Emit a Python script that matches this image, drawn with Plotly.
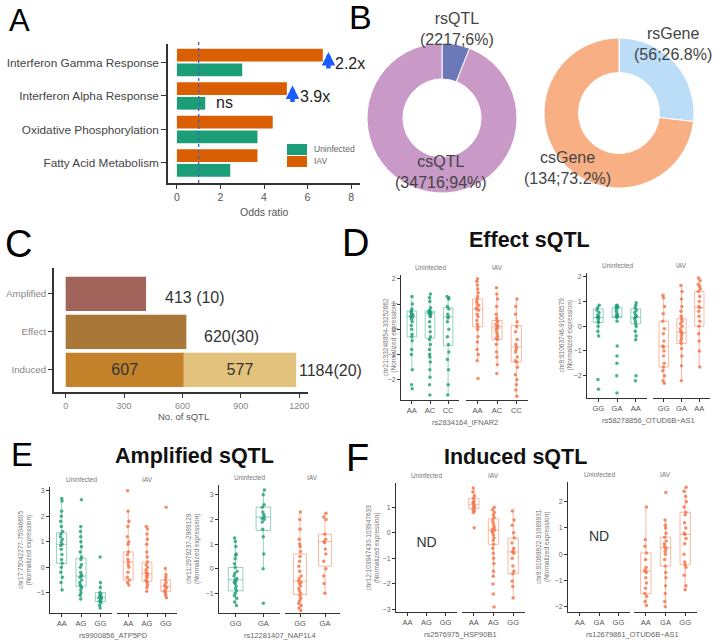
import plotly.graph_objects as go

W, H = 720, 642
FONT = "Liberation Sans, Arial, Helvetica, sans-serif"

# ---------------- Panel A data ----------------
A_TERMS = ["Interferon Gamma Response", "Interferon Alpha Response",
           "Oxidative Phosphorylation", "Fatty Acid Metabolism"]
A_UNINFECTED = [3.0, 1.3, 3.7, 2.45]
A_IAV = [6.7, 5.05, 4.4, 3.7]
A_GROUPS = ["Uninfected", "IAV"]

# ---------------- Panel B data ----------------
B_QTL_LABELS = ["rsQTL", "csQTL"]
B_QTL_COUNTS = [2217, 34716]
B_QTL_PCT = ["6", "94"]
B_GENE_LABELS = ["rsGene", "csGene"]
B_GENE_COUNTS = [56, 134]
B_GENE_PCT = [26.8, 73.2]

# ---------------- Panel C data ----------------
C_CATS = ["Amplified", "Effect", "Induced"]
C_FIRST = [413, 620, 607]
C_INDUCED_SECOND = 577
C_TOTALS = [413, 620, 1184]
C_LABELS = ["413 (10)", "620(30)", "1184(20)"]

# ---------------- Box panels data (points + (q1, median, q3, lower, upper)) ----------------
D1_CATS = ["AA", "AC", "CC"]
D1_SNP = "rs2834164_IFNAR2"
D1_REGION = "chr21:33248854-33252662"
D1_UNIN_PTS = [
    [1.3, 1.0, 0.8, 0.72, 0.68, 0.62, 0.58, 0.55, 0.5, 0.48, 0.4, 0.3, 0.15, 0.0, -0.2, -0.3, -0.45, -0.8, -1.0, -1.6, -2.2, -2.35],
    [1.4, 1.25, 1.1, 0.85, 0.75, 0.72, 0.7, 0.68, 0.66, 0.64, 0.6, 0.55, 0.5, 0.3, 0.1, -0.1, -0.3, -0.4, -0.6, -0.8, -1.0, -1.1, -1.3, -1.6, -1.9, -2.2, -2.6],
    [1.3, 1.25, 1.2, 0.9, 0.8, 0.6, 0.5, 0.45, 0.3, 0.0, -0.3, -0.6, -0.9, -1.2, -1.6, -2.2, -2.6],
]
D1_UNIN_BOX = [(-0.3, 0.5, 0.72, -1.6, 1.3), (-0.35, 0.65, 0.72, -1.9, 1.4), (-0.65, 0.5, 0.85, -2.6, 1.3)]
D1_IAV_PTS = [
    [2.0, 1.9, 1.75, 1.6, 1.45, 1.3, 1.2, 1.1, 1.0, 0.95, 0.85, 0.8, 0.75, 0.6, 0.5, 0.35, 0.2, 0.1, 0.0, -0.3, -0.5, -0.8, -1.0, -1.25, -1.95],
    [1.65, 1.4, 1.2, 0.9, 0.6, 0.45, 0.35, 0.3, 0.2, 0.15, 0.1, 0.05, 0.0, -0.1, -0.2, -0.3, -0.35, -0.4, -0.6, -0.9, -1.1, -1.4, -1.75],
    [1.2, 0.9, 0.6, 0.3, 0.1, -0.1, -0.4, -0.6, -0.7, -0.8, -0.9, -1.1, -1.25, -1.3, -1.5, -1.8, -2.0, -2.2, -2.4, -2.65],
]
D1_IAV_BOX = [(0.1, 0.8, 1.2, -1.25, 2.0), (-0.4, 0.1, 0.35, -1.4, 1.4), (-1.3, -0.7, 0.15, -2.65, 1.2)]

D2_CATS = ["GG", "GA", "AA"]
D2_SNP = "rs58278856_OTUD6B\u2212AS1"
D2_REGION = "chr8:91063746-91068579"
D2_UNIN_PTS = [
    [0.85, 0.75, 0.65, 0.55, 0.45, 0.4, 0.35, 0.35, 0.3, 0.2, 0.15, 0.0, -0.2, -0.4, -2.15, -2.55],
    [0.85, 0.82, 0.8, 0.78, 0.75, 0.7, 0.6, 0.5, 0.45, 0.42, 0.4, 0.38, 0.35, 0.2, -0.8, -1.2, -1.5, -2.0, -2.7],
    [0.95, 0.85, 0.75, 0.65, 0.55, 0.45, 0.4, 0.35, 0.3, 0.2, 0.1, 0.0, -0.2, -0.4, -0.55, -2.0, -2.2],
]
D2_UNIN_BOX = [(0.15, 0.35, 0.7, -0.4, 0.85), (0.35, 0.4, 0.75, 0.2, 0.85), (0.1, 0.35, 0.7, -0.55, 0.95)]
D2_IAV_PTS = [
    [1.25, 1.15, 0.8, 0.5, 0.2, -0.1, -0.3, -0.6, -0.8, -0.85, -1.0, -1.2, -1.5, -1.65, -1.8, -2.0, -2.2, -2.3],
    [1.65, 1.4, 1.1, 0.8, 0.6, 0.4, 0.3, 0.2, 0.1, 0.0, -0.1, -0.2, -0.25, -0.3, -0.4, -0.5, -0.6, -0.7, -0.9, -1.2, -1.6, -2.2],
    [1.95, 1.85, 1.7, 1.6, 1.5, 1.4, 1.2, 1.0, 0.8, 0.75, 0.6, 0.4, 0.2, 0.0, -0.3, -0.6, -1.0, -1.65],
]
D2_IAV_BOX = [(-1.65, -0.8, 0.2, -2.3, 1.25), (-0.7, -0.25, 0.3, -2.2, 1.65), (0.0, 0.75, 1.4, -1.65, 1.95)]

E1_CATS = ["AA", "AG", "GG"]
E1_SNP = "rs9900856_ATP5PD"
E1_REGION = "chr17:75042277-75046605"
E1_UNIN_PTS = [
    [2.7, 2.6, 2.2, 2.0, 1.8, 1.6, 1.4, 1.3, 1.2, 1.1, 1.0, 0.9, 0.85, 0.7, 0.5, 0.3, 0.15, 0.0, -0.2, -0.4, -0.6, -0.9],
    [2.65, 1.6, 1.4, 1.2, 1.0, 0.8, 0.6, 0.4, 0.3, 0.1, 0.0, -0.2, -0.3, -0.35, -0.4, -0.5, -0.6, -0.7, -0.75, -0.8, -0.9, -1.0, -1.1, -1.25],
    [0.4, -0.6, -0.8, -1.0, -1.05, -1.1, -1.15, -1.2, -1.2, -1.25, -1.3, -1.35, -1.4, -1.5, -1.6],
]
E1_UNIN_BOX = [(0.15, 0.9, 1.35, -0.9, 2.7), (-0.75, -0.35, 0.35, -1.25, 1.6), (-1.35, -1.2, -1.0, -1.6, -0.6)]
E1_IAV_PTS = [
    [3.0, 2.2, 1.8, 1.6, 1.2, 1.0, 0.9, 0.6, 0.5, 0.3, 0.2, 0.1, 0.0, -0.2, -0.4, -0.5, -0.6, -0.7],
    [1.6, 1.5, 1.3, 1.1, 0.9, 0.6, 0.4, 0.2, 0.1, 0.0, -0.1, -0.2, -0.25, -0.3, -0.35, -0.4, -0.5, -0.55, -0.6, -0.7, -0.8, -0.95],
    [2.35, -0.05, -0.3, -0.4, -0.5, -0.6, -0.7, -0.75, -0.8, -0.9, -0.95, -1.0, -1.1, -1.2],
]
E1_IAV_BOX = [(-0.5, 0.2, 0.6, -0.7, 2.2), (-0.55, -0.25, 0.2, -0.95, 1.3), (-0.95, -0.75, -0.5, -1.2, -0.05)]

E2_CATS = ["GG", "GA"]
E2_SNP = "rs12281407_NAP1L4"
E2_REGION = "chr11:2979237-2989129"
E2_UNIN_PTS = [
    [1.25, 1.1, 0.9, 0.6, 0.55, 0.4, 0.2, 0.05, -0.1, -0.2, -0.3, -0.4, -0.45, -0.5, -0.55, -0.6, -0.7, -0.8, -0.9, -1.0, -1.1, -1.2, -1.35, -1.5],
    [3.2, 3.0, 2.6, 2.5, 2.3, 2.2, 2.1, 2.05, 2.0, 1.9, 1.6, 1.3, 0.6, 0.0, -1.4],
]
E2_UNIN_BOX = [(-0.9, -0.45, 0.05, -1.5, 1.25), (1.55, 2.1, 2.5, 0.05, 3.2)]
E2_IAV_PTS = [
    [2.3, 2.0, 1.6, 1.2, 1.0, 0.9, 0.7, 0.5, 0.3, 0.1, -0.1, -0.3, -0.4, -0.5, -0.55, -0.6, -0.7, -0.8, -0.9, -1.0, -1.1, -1.2, -1.3, -1.4, -1.5, -1.6, -1.7],
    [2.25, 2.1, 2.0, 1.4, 1.2, 1.1, 1.05, 0.8, 0.6, 0.3, 0.0, -0.3, -0.6, -1.0],
]
E2_IAV_BOX = [(-1.05, -0.5, 0.6, -1.7, 2.3), (0.1, 1.1, 1.4, -1.0, 2.25)]

F1_CATS = ["AA", "AG", "GG"]
F1_SNP = "rs2576975_HSP90B1"
F1_REGION = "chr12:103947430-103947633"
F1_IAV_PTS = [
    [1.75, 1.6, 1.45, 1.35, 1.25, 1.2, 1.15, 1.1, 1.05, 1.0, 0.95, 0.9, 0.85, 0.8, 0.2],
    [1.0, 0.9, 0.8, 0.7, 0.6, 0.5, 0.4, 0.3, 0.2, 0.15, 0.1, 0.05, 0.0, -0.1, -0.2, -0.3, -0.45, -0.6, -0.8, -1.0, -1.2, -1.5, -1.7, -2.0, -2.4, -2.9],
    [0.85, 0.5, 0.3, 0.0, -0.2, -0.4, -0.6, -0.7, -0.75, -0.8, -1.0, -1.3, -1.5, -1.6, -1.9, -2.1, -2.55],
]
F1_IAV_BOX = [(0.95, 1.1, 1.35, 0.8, 1.75), (-0.45, 0.1, 0.55, -1.7, 1.0), (-1.6, -0.75, -0.2, -2.55, 0.85)]

F2_CATS = ["AA", "GA", "GG"]
F2_SNP = "rs12679861_OTUD6B\u2212AS1"
F2_REGION = "chr8:91068822-91069931"
F2_IAV_PTS = [
    [1.8, 0.55, 0.3, 0.05, -0.2, -0.5, -0.6, -0.65, -0.7, -0.9, -1.1, -1.3, -1.5, -1.6, -1.8, -1.95],
    [2.35, 1.3, 1.1, 1.0, 0.8, 0.65, 0.5, 0.4, 0.3, 0.25, 0.2, 0.1, 0.0, -0.2, -0.45, -0.7, -0.9, -1.2, -1.5, -1.8, -2.0],
    [2.55, 2.4, 2.2, 2.0, 1.8, 1.6, 1.5, 1.2, 1.0, 0.8, 0.75, 0.6, 0.4, 0.0, -0.3, -0.4, -0.5, -0.8, -1.2, -1.35],
]
F2_IAV_BOX = [(-1.5, -0.65, 0.05, -1.95, 1.8), (-0.45, 0.25, 0.65, -2.0, 1.3), (-0.4, 0.75, 1.6, -1.35, 2.55)]

# "ND" marker placement (genotype index, expression level) for facets without data
F1_ND = (1, -0.4)
F2_ND = (1, 0.62)

# ---------------- styling ----------------
GREEN = "#1B9E77"
ORANGE = "#D95F02"
BOX_G_LINE = "rgba(27,158,119,0.45)"
BOX_G_PT = "rgba(27,158,119,0.8)"
BOX_O_LINE = "rgba(245,120,78,0.5)"
BOX_O_PT = "rgba(245,120,78,0.85)"
C_COLORS = ["#A2645A", "#A97838", "#C4832B"]
C_COLOR2 = "#E2C27C"
QTL_COLORS = ["#6C79B8", "#C99AC8"]
GENE_COLORS = ["#BCDDF8", "#F8AF84"]


def px_x(a, b):
    return [a / W, b / W]


def px_y(top, bot):
    return [1 - bot / H, 1 - top / H]


def base_axis(**kw):
    d = dict(showgrid=False, zeroline=False, showline=True, linecolor="#333", linewidth=1,
             ticks="outside", tickcolor="#333", ticklen=3, tickwidth=1,
             tickfont=dict(size=7, color="#666", family=FONT), fixedrange=True)
    d.update(kw)
    return d


def axkey(kind, n):
    return f"{kind}axis" if n == 1 else f"{kind}axis{n}"


def axname(kind, n):
    return kind if n == 1 else f"{kind}{n}"


traces = []
layout = {}
annotations = []
shapes = []


def ann(text, xp, yp, size, color="#333", bold=False, **kw):
    t = f"<b>{text}</b>" if bold else text
    d = dict(text=t, x=xp / W, y=1 - yp / H, xref="paper", yref="paper", showarrow=False,
             xanchor="center", yanchor="middle", font=dict(size=size, color=color, family=FONT))
    d.update(kw)
    annotations.append(d)


# ================= Panel A =================
a_order = A_TERMS[::-1]
layout["xaxis"] = base_axis(domain=px_x(168, 360), range=[-0.41, 8.41], anchor="y",
                            tickvals=[0, 2, 4, 6, 8], linewidth=1.5, ticklen=4,
                            tickfont=dict(size=10.5, color="#555", family=FONT))
layout["yaxis"] = base_axis(domain=px_y(44, 183), range=[-0.6, 3.55], anchor="x", type="category",
                            categoryorder="array", categoryarray=a_order, linewidth=1.5, ticklen=5,
                            tickfont=dict(size=11.8, color="#444", family=FONT))
traces.append(go.Bar(y=A_TERMS, x=A_UNINFECTED, orientation="h", name=A_GROUPS[0],
                     marker=dict(color=GREEN, line=dict(width=0)), width=0.38, offset=-0.41,
                     showlegend=False, xaxis="x", yaxis="y"))
traces.append(go.Bar(y=A_TERMS, x=A_IAV, orientation="h", name=A_GROUPS[1],
                     marker=dict(color=ORANGE, line=dict(width=0)), width=0.38, offset=0.03,
                     showlegend=False, xaxis="x", yaxis="y"))
shapes.append(dict(type="line", xref="x", yref="y domain", x0=1, x1=1, y0=0, y1=1.02,
                   line=dict(color="#4B5BC8", width=1.3, dash="dot")))
for i in (0, 1):
    idx = a_order.index(A_TERMS[i])
    ratio = A_IAV[i] / A_UNINFECTED[i]
    annotations.append(dict(text="", x=A_IAV[i] + 0.26, y=idx + 0.31, xref="x", yref="y",
                            showarrow=True, ax=0, ay=18, arrowhead=2, arrowsize=0.6,
                            arrowwidth=4.5, arrowcolor="#1A5CFF"))
    annotations.append(dict(text=f"{ratio:.1f}x", x=A_IAV[i] + 0.26, y=idx - 0.03, xref="x", yref="y",
                            xanchor="left", xshift=5, showarrow=False,
                            font=dict(size=16, color="#222", family=FONT)))
annotations.append(dict(text="ns", x=A_UNINFECTED[1], y=a_order.index(A_TERMS[1]) - 0.2, xref="x", yref="y",
                        xanchor="left", xshift=9, showarrow=False,
                        font=dict(size=16, color="#222", family=FONT)))
ann("Odds ratio", 264, 212, 10.5, "#555")
# legend for panel A (keys + labels)
for grp, col, (top, bot) in zip(A_GROUPS, [GREEN, ORANGE], [(144, 155), (156, 167)]):
    shapes.append(dict(type="rect", xref="paper", yref="paper", x0=287 / W, x1=307 / W,
                       y0=1 - bot / H, y1=1 - top / H, fillcolor=col, line=dict(width=0)))
    ann(grp, 312, (top + bot) / 2, 8.5, "#666", xanchor="left")

# ================= Panel B =================
traces.append(go.Pie(labels=B_QTL_LABELS, values=B_QTL_COUNTS, hole=0.52, sort=False,
                     direction="clockwise", rotation=0, textinfo="none", showlegend=False,
                     marker=dict(colors=QTL_COLORS, line=dict(color="white", width=1)),
                     domain=dict(x=px_x(367, 517), y=px_y(43, 193))))
traces.append(go.Pie(labels=B_GENE_LABELS, values=B_GENE_PCT, hole=0.54, sort=False,
                     direction="clockwise", rotation=0, textinfo="none", showlegend=False,
                     marker=dict(colors=GENE_COLORS, line=dict(color="white", width=1)),
                     domain=dict(x=px_x(544, 694), y=px_y(38, 188))))
qtl_pos = [(457, 29), (441, 172)]
for lab, cnt, pct, (xp, yp) in zip(B_QTL_LABELS, B_QTL_COUNTS, B_QTL_PCT, qtl_pos):
    ann(f"{lab}<br>({cnt};{pct}%)", xp, yp, 16, "#444")
gene_pos = [(673, 44), (567, 168)]
for lab, cnt, pct, (xp, yp) in zip(B_GENE_LABELS, B_GENE_COUNTS, B_GENE_PCT, gene_pos):
    ann(f"{lab}<br>({cnt};{pct}%)", xp, yp, 16, "#444")

# ================= Panel C =================
layout["xaxis2"] = base_axis(domain=px_x(54, 308), range=[-60, 1245], anchor="y2",
                             tickvals=[0, 300, 600, 900, 1200], linewidth=1.5, ticklen=4,
                             tickfont=dict(size=9, color="#888", family=FONT))
layout["yaxis2"] = base_axis(domain=px_y(268, 392), range=[-0.58, 2.68], anchor="x2", type="category",
                             categoryorder="array", categoryarray=C_CATS[::-1], linewidth=1.5, ticklen=4,
                             tickfont=dict(size=9.8, color="#888", family=FONT))
traces.append(go.Bar(y=C_CATS, x=C_FIRST, orientation="h", width=0.9, offset=-0.45,
                     marker=dict(color=C_COLORS, line=dict(width=0)), showlegend=False,
                     text=["", "", str(C_FIRST[2])], textposition="inside", insidetextanchor="middle",
                     insidetextfont=dict(size=16, color="#333", family=FONT), xaxis="x2", yaxis="y2"))
traces.append(go.Bar(y=[C_CATS[2]], x=[C_INDUCED_SECOND], base=[C_FIRST[2]], orientation="h",
                     width=0.9, offset=-0.45, marker=dict(color=C_COLOR2, line=dict(width=0)),
                     showlegend=False, text=[str(C_INDUCED_SECOND)], textposition="inside",
                     insidetextanchor="middle", insidetextfont=dict(size=16, color="#333", family=FONT),
                     xaxis="x2", yaxis="y2"))
for cat, tot, lab, xs, ys in zip(C_CATS, C_TOTALS, C_LABELS, [17, 16, 1], [-4, -5, -1]):
    annotations.append(dict(text=lab, x=tot, y=cat, xref="x2", yref="y2", xanchor="left",
                            xshift=xs, yshift=ys, showarrow=False,
                            font=dict(size=16, color="#333", family=FONT)))
ann("No. of sQTL", 183, 416, 9.5, "#555")

# ================= Box panels =================
box_panels = [
    dict(cats=D1_CATS, unin=(D1_UNIN_PTS, D1_UNIN_BOX), iav=(D1_IAV_PTS, D1_IAV_BOX), snp=D1_SNP, region=D1_REGION,
         f1=(401, 459), f2=(466, 528), yd=(275, 400), yr=[-2.8, 2.15], yt=[-2, -1, 0, 1, 2], ylx=389),
    dict(cats=D2_CATS, unin=(D2_UNIN_PTS, D2_UNIN_BOX), iav=(D2_IAV_PTS, D2_IAV_BOX), snp=D2_SNP, region=D2_REGION,
         f1=(587, 647), f2=(653, 710), yd=(273, 398), yr=[-2.9, 2.15], yt=[-2, -1, 0, 1, 2], ylx=565),
    dict(cats=E1_CATS, unin=(E1_UNIN_PTS, E1_UNIN_BOX), iav=(E1_IAV_PTS, E1_IAV_BOX), snp=E1_SNP, region=E1_REGION,
         f1=(50, 112), f2=(117, 177), yd=(487, 613), yr=[-1.8, 3.15], yt=[-1, 0, 1, 2, 3], ylx=25),
    dict(cats=E2_CATS, unin=(E2_UNIN_PTS, E2_UNIN_BOX), iav=(E2_IAV_PTS, E2_IAV_BOX), snp=E2_SNP, region=E2_REGION,
         f1=(219, 280), f2=(285, 340), yd=(485, 613), yr=[-1.8, 3.4], yt=[-1, 0, 1, 2, 3], ylx=193),
    dict(cats=F1_CATS, unin=None, nd=F1_ND, iav=(F1_IAV_PTS, F1_IAV_BOX), snp=F1_SNP, region=F1_REGION,
         f1=(396, 457), f2=(462, 525), yd=(483, 612), yr=[-3.1, 1.95], yt=[-3, -2, -1, 0, 1], ylx=372),
    dict(cats=F2_CATS, unin=None, nd=F2_ND, iav=(F2_IAV_PTS, F2_IAV_BOX), snp=F2_SNP, region=F2_REGION,
         f1=(568, 630), f2=(634, 697), yd=(482, 612), yr=[-2.2, 2.75], yt=[-2, -1, 0, 1, 2], ylx=543),
]

for k, p in enumerate(box_panels):
    yn = 3 + k
    xn1, xn2 = 3 + 2 * k, 4 + 2 * k
    n = len(p["cats"])
    pos = list(range(n))
    layout[axkey("y", yn)] = base_axis(domain=px_y(*p["yd"]), range=p["yr"], tickvals=p["yt"],
                                       anchor=axname("x", xn1))
    for xn, f in ((xn1, p["f1"]), (xn2, p["f2"])):
        layout[axkey("x", xn)] = base_axis(domain=px_x(*f), range=[-0.6, n - 0.4], tickvals=pos,
                                           ticktext=p["cats"], anchor=axname("y", yn),
                                           tickfont=dict(size=7.5, color="#555", family=FONT))
    for cond, xn, lc, pc in (("unin", xn1, BOX_G_LINE, BOX_G_PT), ("iav", xn2, BOX_O_LINE, BOX_O_PT)):
        if p[cond] is None:
            nd = p["nd"]
            traces.append(go.Scatter(x=[nd[0]], y=[nd[1]], mode="text", text=["ND"],
                                     textfont=dict(size=14, color="#333", family=FONT),
                                     showlegend=False, hoverinfo="skip",
                                     xaxis=axname("x", xn), yaxis=axname("y", yn)))
            continue
        pts, stats = p[cond]
        traces.append(go.Box(x=pos, q1=[s[0] for s in stats], median=[s[1] for s in stats],
                             q3=[s[2] for s in stats], lowerfence=[s[3] for s in stats],
                             upperfence=[s[4] for s in stats], orientation="v", boxpoints=False,
                             line=dict(color=lc, width=1), fillcolor="rgba(0,0,0,0)", whiskerwidth=0,
                             showlegend=False, xaxis=axname("x", xn), yaxis=axname("y", yn)))
        xs, ys = [], []
        for i, vals in enumerate(pts):
            xs += [i] * len(vals)
            ys += vals
        traces.append(go.Box(x=xs, y=ys, orientation="v", boxpoints="all", jitter=0.25, pointpos=0,
                             marker=dict(color=pc, size=3.5, line=dict(width=0)),
                             line=dict(color="rgba(0,0,0,0)", width=0), fillcolor="rgba(0,0,0,0)",
                             showlegend=False, xaxis=axname("x", xn), yaxis=axname("y", yn)))
    top, bot = p["yd"]
    ann("Uninfected", (p["f1"][0] + p["f1"][1]) / 2, top - 8, 6.5, "#777")
    ann("IAV", (p["f2"][0] + p["f2"][1]) / 2, top - 8, 6.5, "#777")
    ann(p["snp"], (p["f1"][0] + p["f2"][1]) / 2, bot + 22, 7.5, "#666")
    ann(f"{p['region']}<br>(Normalized expression)", p["ylx"], (top + bot) / 2, 6.5, "#777",
        textangle=-90)

# ================= Titles & panel letters =================
ann("Effect sQTL", 529, 240, 21.5, "#111", bold=True)
ann("Amplified sQTL", 194, 456, 21.5, "#111", bold=True)
ann("Induced sQTL", 515, 457, 21.5, "#111", bold=True)
for letter, xp, yp, sz in (("A", 19, 21, 31), ("B", 360, 17, 34), ("C", 18, 244, 38),
                           ("D", 355, 243, 38), ("E", 22, 454, 33), ("F", 357, 458, 38)):
    ann(letter, xp, yp, sz, "#000")

fig = go.Figure(data=traces)
fig.update_layout(
    width=W, height=H, autosize=False,
    margin=dict(l=0, r=0, t=0, b=0, pad=0),
    paper_bgcolor="white", plot_bgcolor="white",
    font=dict(family=FONT, color="#333"),
    barmode="overlay", boxmode="overlay", boxgap=0.25,
    showlegend=False,
    annotations=annotations, shapes=shapes,
    **layout,
)
fig.write_html("out.html")
